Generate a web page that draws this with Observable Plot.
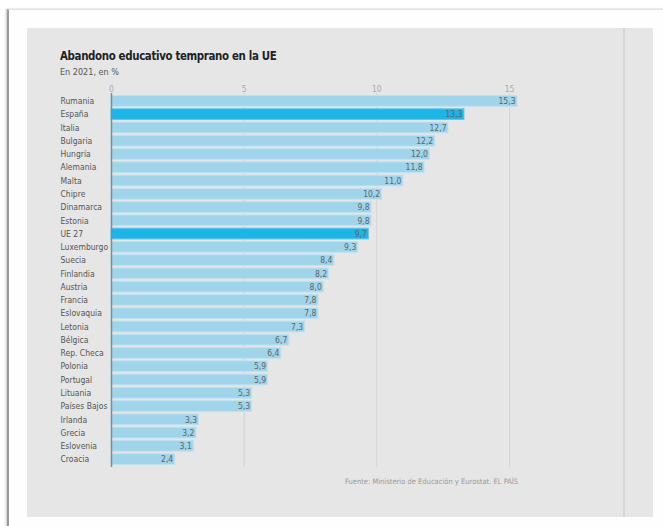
<!DOCTYPE html>
<html>
<head>
<meta charset="utf-8">
<script src="https://cdn.jsdelivr.net/npm/d3@7"></script>
<script src="https://cdn.jsdelivr.net/npm/@observablehq/plot@0.6"></script>
<style>
  html, body { margin: 0; padding: 0; background: #ffffff; width: 663px; height: 526px; overflow: hidden; }
  #frame { position: absolute; left: 7px; top: 9px; width: 660px; height: 520px; background: #fefefe;
           border-top: 1px solid #e4e4e4; border-left: 2px solid #9a9a9a; box-shadow: -1px 0 2px rgba(0,0,0,0.25); }
  #panel { position: absolute; left: 27px; top: 28px; width: 626px; height: 489px; background: #e6e6e6; }
  #sep { position: absolute; left: 623px; top: 28px; width: 2px; height: 489px; background: #d6d6d6; }
  #title { position: absolute; left: 60px; top: 49px; font-family: "DejaVu Sans Condensed", "DejaVu Sans", sans-serif;
           font-stretch: condensed; font-weight: bold; font-size: 11.4px; letter-spacing: -0.35px; color: #222; white-space: nowrap; }
  #subtitle { position: absolute; left: 60px; top: 67px; font-family: "DejaVu Sans Condensed", "DejaVu Sans", sans-serif;
           font-stretch: condensed; font-size: 9px; color: #555; white-space: nowrap; }
  #chart { position: absolute; left: 27px; top: 80px; }
  #caption { position: absolute; left: 345px; top: 477px; font-family: "DejaVu Sans Condensed", "DejaVu Sans", sans-serif;
           font-stretch: condensed; font-size: 7.5px; color: #9a9a9a; white-space: nowrap; }
</style>
</head>
<body>
<div id="frame"></div>
<div id="panel"></div>
<div id="sep"></div>
<div id="title">Abandono educativo temprano en la UE</div>
<div id="subtitle">En 2021, en %</div>
<div id="chart"></div>
<div id="caption">Fuente: Ministerio de Educación y Eurostat. EL PAÍS</div>
<script>
const paises = ["Rumania","España","Italia","Bulgaria","Hungría","Alemania","Malta","Chipre","Dinamarca","Estonia","UE 27","Luxemburgo","Suecia","Finlandia","Austria","Francia","Eslovaquia","Letonia","Bélgica","Rep. Checa","Polonia","Portugal","Lituania","Países Bajos","Irlanda","Grecia","Eslovenia","Croacia"];
const valores = [15.3,13.3,12.7,12.2,12.0,11.8,11.0,10.2,9.8,9.8,9.7,9.3,8.4,8.2,8.0,7.8,7.8,7.3,6.7,6.4,5.9,5.9,5.3,5.3,3.3,3.2,3.1,2.4];
const destacados = ["España","UE 27"];
const xTicks = [0,5,10,15];

const data = paises.map((p, i) => ({pais: p, valor: valores[i], destacado: destacados.includes(p)}));
const fmt = v => v.toFixed(1).replace(".", ",");
const font = "'DejaVu Sans Condensed', 'DejaVu Sans', sans-serif";

const chart = Plot.plot({
  width: 560,
  height: 390,
  marginLeft: 84,
  marginRight: 70,
  marginTop: 13,
  marginBottom: 3,
  style: {background: "transparent", fontFamily: font, fontSize: "8.5px", color: "#555", fontStretch: "condensed"},
  x: {domain: [0, 15.3]},
  y: {domain: paises, padding: 0.19, round: false},
  marks: [
    Plot.gridX(xTicks.slice(1), {stroke: "#d2d2d2", strokeOpacity: 1}),
    Plot.axisX(xTicks, {anchor: "top", tickSize: 0, tickPadding: 2, label: null, fill: "#aaa", fontSize: 8.5}),
    Plot.axisY({tickSize: 0, tickPadding: 51, textAnchor: "start", label: null, fill: "#555", fontSize: 8.5}),
    Plot.barX(data, {x: "valor", y: "pais", fill: d => d.destacado ? "#1db4e6" : "#a0d4ea",
                     stroke: d => d.destacado ? "#5cc8ee" : "#bfe2f1", strokeWidth: 1}),
    Plot.text(data, {x: "valor", y: "pais", text: d => fmt(d.valor), textAnchor: "end", dx: -2,
                     fill: "#5a656c", fontSize: 8.5}),
    Plot.ruleX([0], {stroke: "#8a8a8a", strokeWidth: 1.5})
  ]
});
document.getElementById("chart").appendChild(chart);
</script>
</body>
</html>
